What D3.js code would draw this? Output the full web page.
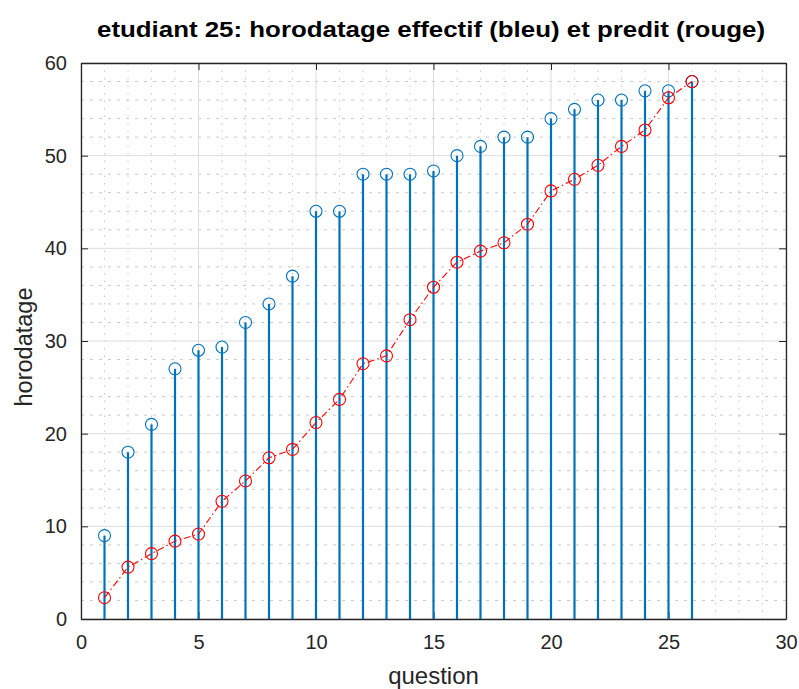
<!DOCTYPE html>
<html><head><meta charset="utf-8">
<script src="https://cdn.jsdelivr.net/npm/d3@7"></script>
<style>body{margin:0;background:#fff}svg{display:block;font-family:"Liberation Sans",Arial,sans-serif}</style>
</head><body><svg id="c" width="799" height="689"></svg>
<script>
const questions = d3.range(1, 27);
const actual = [9, 18, 21, 27, 29, 29.35, 32, 34, 37, 44, 44, 48, 48, 48, 48.35, 50, 51, 52, 52, 54, 55, 56, 56, 57, 57, 58];
const predicted = [2.3, 5.6, 7.05, 8.4, 9.17, 12.7, 14.9, 17.4, 18.3, 21.2, 23.7, 27.55, 28.4, 32.3, 35.8, 38.5, 39.7, 40.6, 42.6, 46.2, 47.45, 48.96, 51.0, 52.77, 56.25, 58];
const xTicks = [0, 5, 10, 15, 20, 25, 30];
const yTicks = [0, 10, 20, 30, 40, 50, 60];
const titleText = "etudiant 25: horodatage effectif (bleu) et predit (rouge)";

const svg = d3.select("#c");
const L = 81, R = 786, T = 63, B = 619;
const x = d3.scaleLinear().domain([0, 30]).range([L, R]);
const y = d3.scaleLinear().domain([0, 60]).range([B, T]);
const axCol = "#262626";

// minor grid
const g = svg.append("g");
g.selectAll(".mx").data(d3.range(0, 31, 1).filter(v => v % 5 !== 0)).join("line")
  .attr("x1", d => x(d)).attr("x2", d => x(d)).attr("y1", T).attr("y2", B)
  .attr("stroke", "#c8c8c8").attr("stroke-width", 1).attr("stroke-dasharray", "1.5,6");
g.selectAll(".my").data(d3.range(0, 61, 2).filter(v => v % 10 !== 0)).join("line")
  .attr("x1", L).attr("x2", R).attr("y1", d => y(d)).attr("y2", d => y(d))
  .attr("stroke", "#c8c8c8").attr("stroke-width", 1).attr("stroke-dasharray", "3,6");
// major grid
g.selectAll(".gx").data(xTicks).join("line")
  .attr("x1", d => x(d)).attr("x2", d => x(d)).attr("y1", T).attr("y2", B)
  .attr("stroke", "#dcdcdc").attr("stroke-width", 1);
g.selectAll(".gy").data(yTicks).join("line")
  .attr("x1", L).attr("x2", R).attr("y1", d => y(d)).attr("y2", d => y(d))
  .attr("stroke", "#dcdcdc").attr("stroke-width", 1);

// axes
const xa = svg.append("g").attr("transform", `translate(0,${B})`)
  .call(d3.axisBottom(x).tickValues(xTicks).tickSizeInner(-7).tickSizeOuter(0).tickPadding(16));
const xt = svg.append("g").attr("transform", `translate(0,${T})`)
  .call(d3.axisTop(x).tickValues(xTicks).tickSizeInner(-7).tickSizeOuter(0).tickFormat(""));
const ya = svg.append("g").attr("transform", `translate(${L},0)`)
  .call(d3.axisLeft(y).tickValues(yTicks).tickSizeInner(-7).tickSizeOuter(0).tickPadding(14));
const yr = svg.append("g").attr("transform", `translate(${R},0)`)
  .call(d3.axisRight(y).tickValues(yTicks).tickSizeInner(-7).tickSizeOuter(0).tickFormat(""));
[xa, xt, ya, yr].forEach(a => {
  a.select(".domain").attr("stroke", axCol).attr("stroke-width", 1.3);
  a.selectAll(".tick line").attr("stroke", axCol).attr("stroke-width", 1);
  a.selectAll(".tick text").attr("fill", axCol).attr("font-size", 20).attr("font-family", "Liberation Sans, Arial, sans-serif");
});

// stems
svg.append("g").selectAll("line").data(questions).join("line")
  .attr("x1", d => x(d)).attr("x2", d => x(d))
  .attr("y1", y(0)).attr("y2", (d, i) => y(actual[i]))
  .attr("stroke", "#0072BD").attr("stroke-width", 2.2);
svg.append("g").selectAll("circle").data(questions).join("circle")
  .attr("cx", d => x(d)).attr("cy", (d, i) => y(actual[i])).attr("r", 6)
  .attr("fill", "none").attr("stroke", "#0072BD").attr("stroke-width", 1.1);

// predicted line
const line = d3.line().x((d, i) => x(questions[i])).y(d => y(d));
svg.append("path").datum(predicted).attr("d", line)
  .attr("fill", "none").attr("stroke", "#FF0000").attr("stroke-width", 1.1)
  .attr("stroke-dasharray", "7,3,1.5,3");
svg.append("g").selectAll("circle").data(predicted).join("circle")
  .attr("cx", (d, i) => x(questions[i])).attr("cy", d => y(d)).attr("r", 6)
  .attr("fill", "none").attr("stroke", "#FF0000").attr("stroke-width", 1.1);

// labels
svg.append("text").attr("x", 431).attr("y", 37).attr("text-anchor", "middle")
  .attr("font-weight", "bold").attr("font-size", 22.5).attr("fill", "#000")
  .attr("textLength", 668).attr("lengthAdjust", "spacingAndGlyphs").text(titleText);
svg.append("text").attr("x", (L + R) / 2).attr("y", 684).attr("text-anchor", "middle")
  .attr("font-size", 24).attr("fill", axCol).text("question");
svg.append("text").attr("transform", `translate(32,${(T + B) / 2 + 6}) rotate(-90)`).attr("text-anchor", "middle")
  .attr("font-size", 23.5).attr("fill", axCol).text("horodatage");
</script></body></html>
